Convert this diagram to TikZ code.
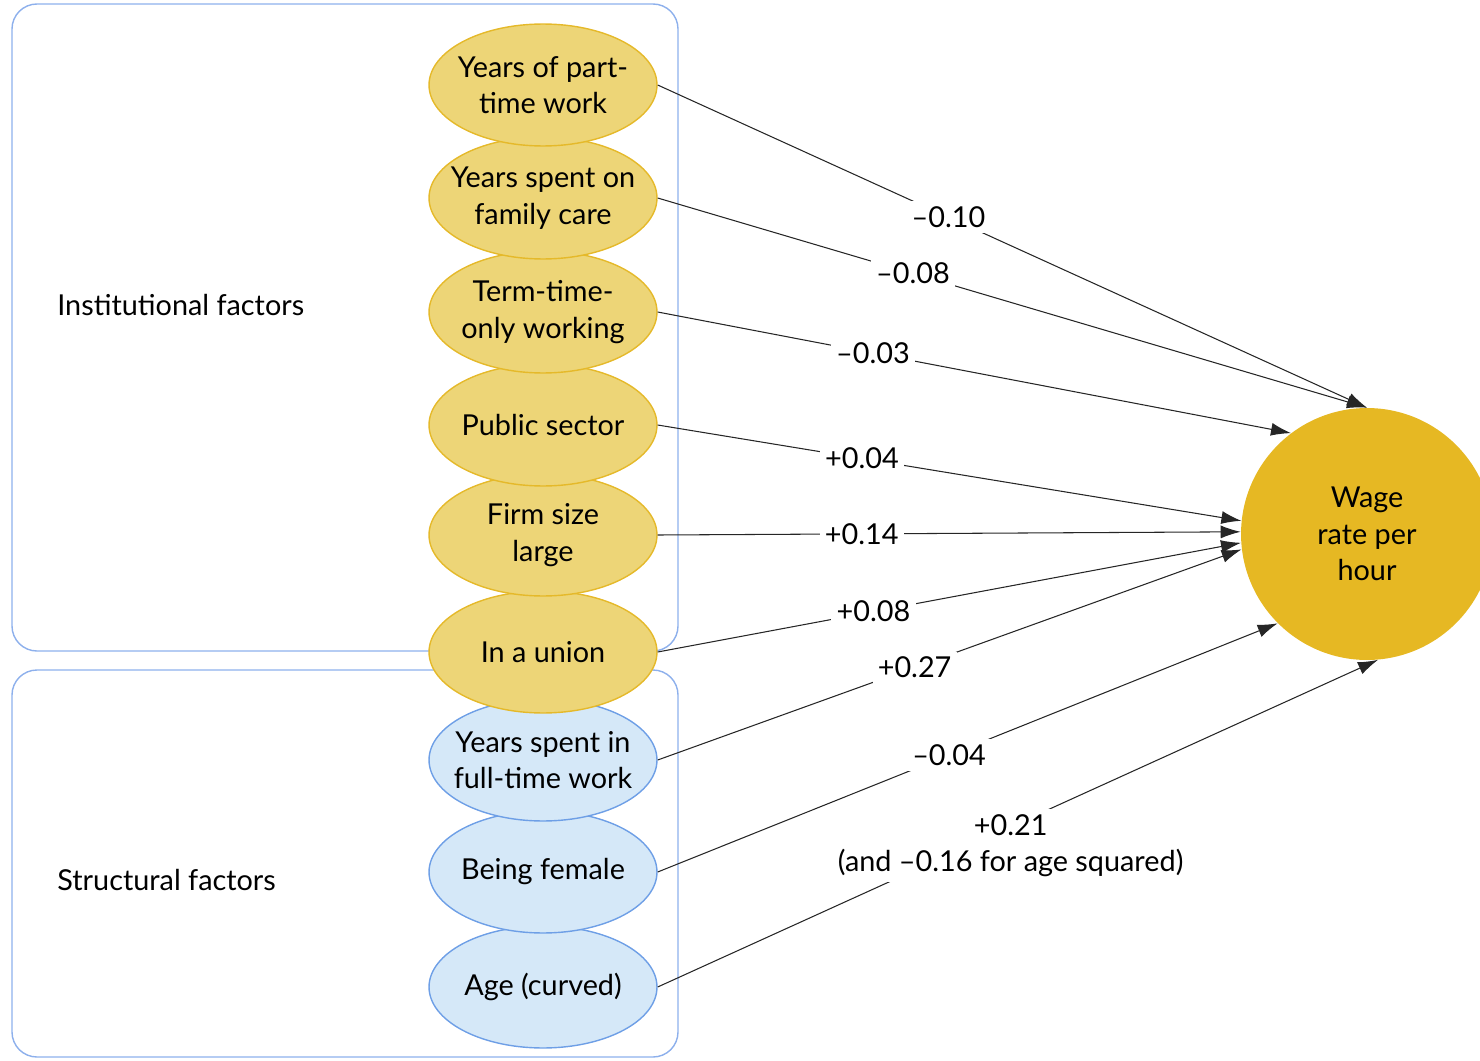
\documentclass[tikz,border=0pt]{standalone}
\usepackage{fontspec}
\setmainfont{Lato}
\usetikzlibrary{arrows.meta, positioning, shapes.geometric}

\definecolor{instfill}{HTML}{EDD577}
\definecolor{instline}{HTML}{E5B92A}
\definecolor{strfill}{HTML}{D5E8F8}
\definecolor{strline}{HTML}{6E9FE6}
\definecolor{wagefill}{HTML}{E6B823}
\definecolor{groupline}{HTML}{8DB0EC}

\begin{document}
\begin{tikzpicture}[
    x=0.02cm, y=-0.02cm,
    every node/.style={font=\fontsize{16.4}{20.8}\selectfont},
    inst/.style={draw=instline, fill=instfill, ellipse, minimum width=4.56cm, minimum height=2.44cm, inner xsep=-0.6cm, inner ysep=0pt, align=center, line width=0.8pt},
    struct/.style={inst, draw=strline, fill=strfill},
    group/.style={draw=groupline, rounded corners=0.5cm, line width=0.8pt},
    target/.style={circle, fill=wagefill, minimum size=5.04cm, align=center},
    arrow/.style={-{Latex[length=0.4cm, width=0.26cm]}, line width=0.6pt, draw=black!85},
    coef/.style={fill=white, inner sep=3pt}
]
\clip (0,0) rectangle (1480,1061);

% groups
\draw[group] (12,4) rectangle (678,651);
\draw[group] (12,670) rectangle (678,1057);
\node[anchor=west, inner sep=0pt] (instlabel) at (57,305) {Institutional factors};
\node[anchor=west, inner sep=0pt] (structlabel) at (57,880) {Structural factors};

% factors (bottom first, upper ones lie on top)
\node[struct] (age) at (543,987) {Age (curved)};
\node[struct] (female) at (543,872) {Being female};
\node[struct] (fulltime) at (543,760) {Years spent in\\full-time work};
\node[inst] (union) at (543,652) {In a union};
\node[inst] (firm) at (543,535) {Firm size\\large};
\node[inst] (public) at (543,425) {Public sector};
\node[inst] (termtime) at (543,312) {Term-time-\\only working};
\node[inst] (care) at (543,198) {Years spent on\\family care};
\node[inst] (parttime) at (543,85) {Years of part-\\time work};

\node[target] (wage) at (1367,534) {Wage\\rate per\\hour};

% effects
\draw[arrow] (parttime.east) -- node[coef, pos=0.41]{–0.10} (wage.90);
\draw[arrow] (care.east) -- node[coef, pos=0.36]{–0.08} (wage.90);
\draw[arrow] (termtime.east) -- node[coef, pos=0.34]{–0.03} (wage.127);
\draw[arrow] (public.east) -- node[coef, pos=0.35]{+0.04} (wage.174);
\draw[arrow] (firm.east) -- node[coef, pos=0.35]{+0.14} (wage.179);
\draw[arrow] (union.east) -- node[coef, pos=0.37]{+0.08} (wage.184);
\draw[arrow] (fulltime.east) -- node[coef, pos=0.44]{+0.27} (wage.187);
\draw[arrow] (female.east) -- node[coef, pos=0.47]{–0.04} (wage.225);
\draw[arrow] (age.east) -- node[coef, pos=0.49, yshift=-0.38cm, align=center]{+0.21\\(and –0.16 for age squared)} (wage.275);
\end{tikzpicture}
\end{document}
